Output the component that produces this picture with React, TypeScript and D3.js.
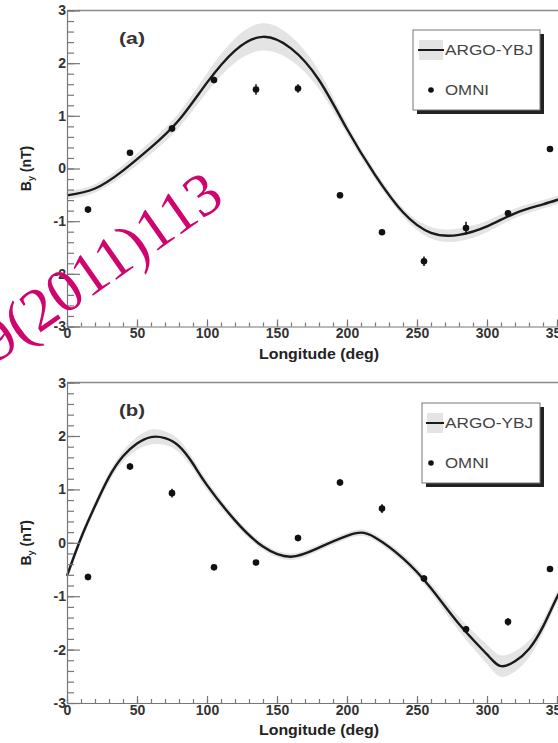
import React, { useRef, useEffect } from "react";
import * as d3 from "d3";

// OMNI points, 30 deg longitude bins
const lonBins = [15, 45, 75, 105, 135, 165, 195, 225, 255, 285, 315, 345];
const omniA = [-0.78, 0.30, 0.76, 1.68, 1.50, 1.52, -0.51, -1.21, -1.76, -1.13, -0.85, 0.37];
const omniAErr = [0.06, 0.05, 0.06, 0.06, 0.10, 0.08, 0.05, 0.05, 0.09, 0.12, 0.06, 0.05];
const omniB = [-0.64, 1.43, 0.93, -0.46, -0.37, 0.09, 1.13, 0.64, -0.67, -1.62, -1.48, -0.49];
const omniBErr = [0.06, 0.06, 0.08, 0.05, 0.05, 0.06, 0.06, 0.08, 0.06, 0.06, 0.07, 0.05];

// ARGO-YBJ fitted curve
const argoALon = [0, 20, 40, 60, 80, 100, 120, 140, 160, 180, 200, 220, 240, 260, 280, 300, 320, 340, 360];
const argoA = [-0.51, -0.38, -0.04, 0.40, 0.92, 1.63, 2.24, 2.50, 2.28, 1.68, 0.75, -0.12, -0.83, -1.22, -1.26, -1.10, -0.85, -0.68, -0.51];
const argoABand = [0.08, 0.08, 0.1, 0.12, 0.14, 0.18, 0.23, 0.26, 0.23, 0.17, 0.1, 0.08, 0.08, 0.11, 0.12, 0.11, 0.09, 0.08, 0.08];

const argoBLon = [0, 10, 20, 30, 40, 50, 60, 70, 80, 90, 100, 120, 140, 160, 180, 200, 210, 220, 240, 260, 280, 300, 310, 320, 330, 340, 350, 360];
const argoB = [-0.62, 0.09, 0.69, 1.23, 1.62, 1.86, 1.98, 1.96, 1.81, 1.48, 1.08, 0.42, -0.07, -0.26, -0.09, 0.13, 0.19, 0.10, -0.29, -0.85, -1.52, -2.09, -2.31, -2.22, -1.99, -1.57, -1.02, -0.55];
const argoBBand = [0.08, 0.08, 0.08, 0.09, 0.1, 0.12, 0.14, 0.13, 0.12, 0.1, 0.09, 0.07, 0.06, 0.06, 0.06, 0.06, 0.06, 0.06, 0.07, 0.09, 0.13, 0.18, 0.2, 0.19, 0.16, 0.12, 0.1, 0.08];

const yTicks = [-3, -2, -1, 0, 1, 2, 3];
const xTicks = [0, 50, 100, 150, 200, 250, 300, 350];

const W = 558, H = 743;
const font = "'Liberation Sans', Arial, sans-serif";

function App() {
  const ref = useRef<SVGSVGElement>(null);

  useEffect(() => {
    const svg = d3.select(ref.current);
    svg.selectAll("*").remove();

    const x = d3.scaleLinear().domain([0, 360]).range([67, 571]);

    const panels = [
      { top: 10.5, bottom: 326.5, tag: "(a)", pts: omniA, err: omniAErr, lon: argoALon, val: argoA, band: argoABand,
        legend: { x: 413, y: 30, w: 127, h: 80 } },
      { top: 382.6, bottom: 703, tag: "(b)", pts: omniB, err: omniBErr, lon: argoBLon, val: argoB, band: argoBBand,
        legend: { x: 422, y: 403, w: 118, h: 80 } },
    ];

    panels.forEach((p) => {
      const y = d3.scaleLinear().domain([-3, 3]).range([p.bottom, p.top]);
      const g = svg.append("g");

      // band + curve
      const area = d3.area<number>()
        .x((d, i) => x(p.lon[i]))
        .y0((d, i) => y(d - p.band[i]))
        .y1((d, i) => y(d + p.band[i]))
        .curve(d3.curveNatural);
      g.append("path").attr("d", area(p.val)).attr("fill", "#e4e4e4");

      const line = d3.line<number>()
        .x((d, i) => x(p.lon[i]))
        .y((d) => y(d))
        .curve(d3.curveNatural);
      g.append("path").attr("d", line(p.val)).attr("fill", "none")
        .attr("stroke", "#1a1a1a").attr("stroke-width", 2.4);

      // frame top
      g.append("line").attr("x1", x(0)).attr("x2", x(360)).attr("y1", p.top).attr("y2", p.top)
        .attr("stroke", "#8a8a8a").attr("stroke-width", 1.5);

      // y axis
      const yMinor = d3.range(-3, 3.01, 0.2);
      g.append("g").attr("transform", `translate(${x(0)},0)`)
        .call(d3.axisLeft(y).tickValues(yMinor).tickSizeInner(-7).tickSizeOuter(0).tickFormat(() => ""))
        .call((s) => s.select(".domain").remove());
      const ya = g.append("g").attr("transform", `translate(${x(0)},0)`)
        .call(d3.axisLeft(y).tickValues(yTicks).tickSizeInner(-13).tickSizeOuter(0).tickPadding(1)
          .tickFormat((d) => String(d)));
      ya.selectAll("text").attr("font-size", 14).attr("font-weight", "bold").attr("fill", "#333")
        .attr("font-family", font);

      // x axis
      const xMinor = d3.range(0, 361, 10);
      g.append("g").attr("transform", `translate(0,${p.bottom})`)
        .call(d3.axisBottom(x).tickValues(xMinor).tickSizeInner(-4).tickSizeOuter(0).tickFormat(() => ""))
        .call((s) => s.select(".domain").remove());
      const xa = g.append("g").attr("transform", `translate(0,${p.bottom})`)
        .call(d3.axisBottom(x).tickValues(xTicks).tickSizeInner(-7).tickSizeOuter(0).tickPadding(2)
          .tickFormat((d) => String(d)));
      xa.selectAll("text").attr("font-size", 14).attr("font-weight", "bold").attr("fill", "#333")
        .attr("font-family", font);

      g.selectAll(".domain, .tick line").attr("stroke", "#777").attr("stroke-width", 1.2);

      // axis titles
      g.append("text").attr("x", x(180)).attr("y", p.bottom + 32).attr("text-anchor", "middle")
        .attr("font-family", font).attr("font-weight", "bold").attr("font-size", 14).attr("fill", "#222")
        .attr("textLength", 120).attr("lengthAdjust", "spacingAndGlyphs")
        .text("Longitude (deg)");
      const yt = g.append("text")
        .attr("transform", `translate(31,${(p.top + p.bottom) / 2}) rotate(-90)`)
        .attr("text-anchor", "middle").attr("font-family", font).attr("font-weight", "bold")
        .attr("font-size", 14).attr("fill", "#222");
      yt.append("tspan").text("B");
      yt.append("tspan").attr("font-size", 9).attr("dy", 3).text("y");
      yt.append("tspan").attr("dy", -3).text(" (nT)");

      g.append("text").attr("x", 119).attr("y", p.top + 33).attr("font-family", font)
        .attr("font-weight", "bold").attr("font-size", 16).attr("fill", "#333")
        .attr("textLength", 26).attr("lengthAdjust", "spacingAndGlyphs").text(p.tag);

      // OMNI points
      const pg = g.append("g");
      pg.selectAll("line").data(p.pts).enter().append("line")
        .attr("x1", (d, i) => x(lonBins[i])).attr("x2", (d, i) => x(lonBins[i]))
        .attr("y1", (d, i) => y(d - p.err[i])).attr("y2", (d, i) => y(d + p.err[i]))
        .attr("stroke", "#111").attr("stroke-width", 1.5);
      pg.selectAll("circle").data(p.pts).enter().append("circle")
        .attr("cx", (d, i) => x(lonBins[i])).attr("cy", (d) => y(d)).attr("r", 3.3).attr("fill", "#111");

      // legend
      const L = p.legend;
      const lg = g.append("g");
      lg.append("rect").attr("x", L.x + 4).attr("y", L.y + 4).attr("width", L.w).attr("height", L.h).attr("fill", "#222");
      lg.append("rect").attr("x", L.x).attr("y", L.y).attr("width", L.w).attr("height", L.h)
        .attr("fill", "white").attr("stroke", "#777").attr("stroke-width", 1);
      const e1 = L.y + 20, e2 = L.y + 61;
      const sx0 = Math.max(L.x + 4, 418);
      lg.append("rect").attr("x", sx0 + 1).attr("y", e1 - 10).attr("width", 443 - sx0 - 1).attr("height", 20).attr("fill", "#e4e4e4");
      lg.append("line").attr("x1", sx0).attr("x2", 444).attr("y1", e1).attr("y2", e1)
        .attr("stroke", "#1a1a1a").attr("stroke-width", 2);
      lg.append("circle").attr("cx", 431).attr("cy", e2 - 1).attr("r", 2.8).attr("fill", "#111");
      lg.append("text").attr("x", 445).attr("y", e1 + 5).attr("font-family", font).attr("font-size", 14)
        .attr("fill", "#444").attr("textLength", 88).attr("lengthAdjust", "spacingAndGlyphs").text("ARGO-YBJ");
      lg.append("text").attr("x", 445).attr("y", e2 + 4).attr("font-family", font).attr("font-size", 14)
        .attr("fill", "#444").attr("textLength", 44).attr("lengthAdjust", "spacingAndGlyphs").text("OMNI");
    });

    // watermark
    svg.append("text").attr("transform", "translate(-3,363) rotate(-35)")
      .attr("font-family", "'Liberation Serif', 'Times New Roman', serif").attr("font-size", 61)
      .attr("fill", "#d0046e").text("9(2011)113");
  }, []);

  return (
    <svg ref={ref} width={W} height={H} style={{ position: "absolute", left: 0, top: 0, background: "white" }} />
  );
}

export default App;
